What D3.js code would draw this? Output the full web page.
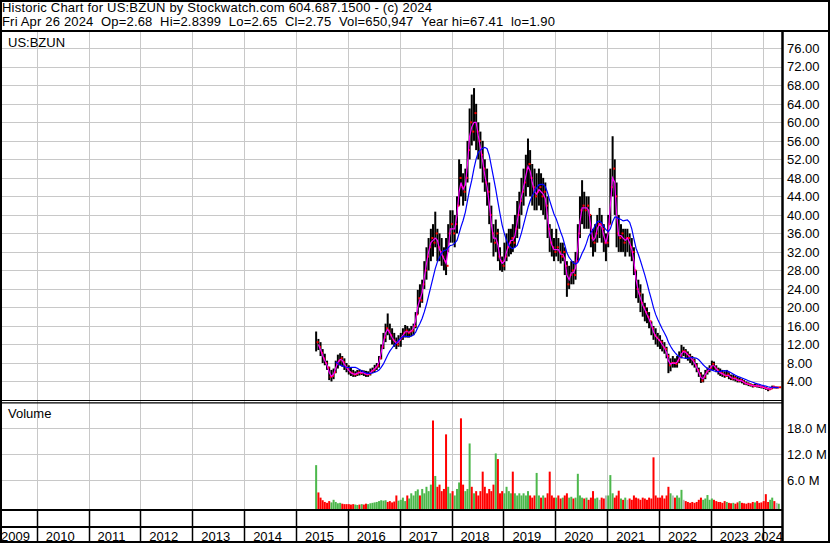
<!DOCTYPE html>
<html>
<head>
<meta charset="utf-8">
<script src="https://cdnjs.cloudflare.com/ajax/libs/d3/7.8.5/d3.min.js"></script>
<style>
body { margin: 0; background: #fff; }
svg text { font-family: "Liberation Sans", Arial, sans-serif; font-size: 13px; fill: #000; }
</style>
</head>
<body>
<div id="chart"></div>
<script>
// half-month bars, the first one is the second half of May 2015
var firstHalfMonth = 9; // half-months counted from Jan 2015

var priceHi = [
    14.8,13.2,12.5,11,10,8.5,7.2,6.5,6.8,8.5,9.8,10.1,9.5,9.0,8.0,
    7.5,7.0,6.5,6.2,6.5,6.6,6.5,6.4,6.3,6.2,6.8,7.0,7.6,8.0,9.5,12.0,14.5,16.5,18.7,16.5,15.5,14.5,13.5,14.0,
    14.5,15.5,16.2,16.0,15.5,16.0,16.5,19,23.8,25,26,30,33,35,37,38,40.7,37,36,35,33,35,38,41,
    41,40,44,52,51,49,50,56,63,66,67.4,64,60,58,56,52,50,47,42,38,39,37,33,31,
    34,36,37,37,38,40,43,45,48,50,53,56.5,54,51,50,49,50,49,48,47,44,38,37,35,
    37,35,34,34,33,30,29,30,30,32,38,44,47.5,45,44,44,40,37,38,40,41.5,40,38,36,
    40,50,57,52,47,40,38,37,37,37,36,35,33,28,26,25,23,21,20,19,17,16,15.5,14.5,
    14,13,12.5,11.5,10,9,9.5,9,9.5,10.5,11.9,11.5,11,10.5,10,9.5,9,8,7,6,5.5,6.5,7,7.5,
    8.5,8.3,7.5,7,6.8,6.5,6.2,6.5,6,5.5,5.5,5.2,5,4.8,4.6,4.3,4,3.8,3.6,3.4,3.5,3.4,3.2,3.1,
    3.0,2.8,2.6,2.7,3.1,3.0,2.9,2.84
];

var priceLo = [
    10.5,10.8,9.5,8,7.5,6.5,4.3,4.0,4.5,5.8,6.8,7.5,7.2,6.5,6.0,
    5.5,5.2,5.0,5.0,5.2,5.3,5.4,5.2,5.0,5.0,5.3,5.8,6.0,6.5,7.0,8.8,11,12.5,14,13,12,11.5,11.0,11.5,
    11.5,13,13.5,13.5,13.5,13.8,14,15.5,18.5,20,21,24,26,28,30,31,33,30,30,29,28,27,32,34,
    34,33,36,42,44,42,43,47,52,55,56,54,52,50,47,45,42,38,34,31,32,30,28,27.7,
    28,30,31,31.5,32,33,35,37,40,42,44,46,44,42,41,41,42,41,40,39,35,32,31,30,
    31,30,29.5,30,27,22.3,24,25,25,26,30,35,38,37,37,37,33,31,32,34,35,34,32,30,
    33,38,44,40,33,32,32,32,31,32,31,30,27,22,21,19,18,17,16.6,15.5,14,13,12,11.5,
    11,10.5,10,9,5.8,6.2,7,7,7,8,9,9.5,9,8.5,8,7.5,7,6,5,3.7,3.8,4.5,5.5,6,
    6.5,6.5,6,5.5,5.2,5,4.8,5,4.5,4.3,4.2,4,3.8,3.8,3.6,3.3,3.2,3,2.9,2.7,2.8,2.7,2.6,2.5,
    2.4,2.2,1.9,2.2,2.4,2.5,2.5,2.6
];

var priceClose = [
    12.5,11.5,10.2,9.0,8.0,7.0,5.0,5.2,6.0,7.8,8.5,9.0,8.2,7.2,6.8,
    6.0,5.8,5.5,5.6,6.0,5.8,6.0,5.7,5.5,5.6,6.2,6.5,7.0,7.4,9.0,11.5,13.5,15.5,15.0,14.0,13.0,12.5,12.0,13.0,
    13.5,14.5,15,14.5,14.8,15.0,16.0,18.5,22,21.5,25,28,31,33,35,34,36,33,32,31,30,29,36,38,
    36,38,42,48,46,45,48,54,60,58,62,58,56,53,50,47,45,40,36,34,36,31,30,29,
    31,33,34,35,34,37,40,43,45,47,50,51,48,46,44,45,46,44,45,42,37,34,33,32,
    33,32,31,32,29,25,27,28,27,30,36,41,42,41,42,40,35,34,36,38,38,37,34,34,
    38,46,50,44,36,35,36,34,35,35,33,32,28,24,23,21,20,19,18,17,15.5,14,13.5,13,
    12.5,11.5,11,9.5,7.5,8,8,7.8,8.5,9.5,10.5,10.5,10,9.5,9,8.5,7.5,6.5,5.5,4.2,5,6,6.5,7,
    7.8,7,6.5,6,5.8,5.5,5.2,5.5,5,4.6,4.8,4.4,4.2,4.3,4,3.6,3.5,3.3,3.2,3,3.1,3,2.9,2.8,
    2.6,2.5,2.3,2.5,2.9,2.7,2.7,2.75
];

// volume in millions of shares
var volume = [
    9.5,3.2,2.0,1.4,1.0,0.8,1.2,0.9,1.5,1.0,0.7,0.8,0.6,0.5,0.5,
    0.5,0.4,0.5,0.4,0.3,0.4,0.5,0.4,0.6,0.5,0.7,0.8,0.9,1.0,1.2,1.4,1.3,1.4,1.0,1.2,0.9,1.1,2.5,1.3,
    1.5,2.0,1.2,2.5,1.8,3.0,2.5,3.5,3.9,2.5,4.0,3.0,4.5,3.5,5.0,19.8,7.0,4.5,5.0,3.5,4.0,16.6,4.5,3.0,
    3.5,2.5,4.0,5.5,20.3,5.0,3.5,4.0,14.5,4.5,3.0,3.5,2.5,3.5,8.0,4.5,3.0,4.0,3.5,5.0,12.2,10.9,3.0,3.5,
    3.0,4.5,3.5,3.0,8.0,3.0,2.5,3.0,2.5,3.0,2.5,3.5,2.5,2.0,2.5,7.7,2.5,2.0,2.5,2.0,3.0,8.0,2.5,2.0,
    2.0,2.5,1.8,2.0,2.5,3.0,2.0,2.2,1.8,2.0,7.5,2.5,2.0,1.8,2.0,1.5,2.0,3.5,1.8,2.0,1.5,2.0,1.8,2.5,
    2.5,7.2,3.0,2.0,2.5,3.6,1.8,1.5,2.0,1.5,1.8,1.5,2.5,2.0,1.8,1.5,2.0,1.8,1.5,2.0,1.8,11.3,2.5,2.0,
    2.0,2.5,1.8,2.5,4.5,3.0,2.5,2.0,2.5,2.0,3.8,1.5,1.2,1.0,0.8,1.0,0.8,1.0,1.5,2.0,1.5,1.8,2.6,1.5,
    1.8,1.5,1.2,1.0,1.0,0.8,1.2,1.0,0.8,0.7,0.8,0.6,0.9,1.2,0.8,0.7,0.6,0.8,0.7,1.0,0.9,1.2,0.8,0.9,
    1.2,2.8,1.0,1.5,2.0,1.2,0.8,0.6
];

var yearLabels = ["2009","2010","2011","2012","2013","2014","2015","2016","2017","2018","2019","2020","2021","2022","2023","2024"];
var priceTicks = [4,8,12,16,20,24,28,32,36,40,44,48,52,56,60,64,68,72,76];
var volumeTicks = [6,12,18];

var headerLine1 = "Historic Chart for US:BZUN by Stockwatch.com 604.687.1500 - (c) 2024";
var headerLine2 = "Fri Apr 26 2024\u00a0\u00a0Op=2.68\u00a0\u00a0Hi=2.8399\u00a0\u00a0Lo=2.65\u00a0\u00a0Cl=2.75\u00a0\u00a0Vol=650,947\u00a0\u00a0Year hi=67.41\u00a0\u00a0lo=1.90";

var width = 830,
    height = 543,
    plotRight = 782,
    priceTop = 32,
    priceBottom = 400,
    volTop = 403,
    volBottom = 509;

function periodDate(i) {
    var h = firstHalfMonth + i;
    return new Date(2015 + Math.floor(h / 24), Math.floor((h % 24) / 2), h % 2 ? 23 : 8);
}

function movingAverage(values, n) {
    var out = [];
    for (var i = n - 1; i < values.length; i++) {
        out.push({i: i, v: d3.mean(values.slice(i - n + 1, i + 1))});
    }
    return out;
}

var bars = priceClose.map(function(c, i) {
    return {
        date: periodDate(i),
        hi: priceHi[i],
        lo: priceLo[i],
        close: c,
        vol: volume[i],
        dir: i === 0 ? 1 : Math.sign(c - priceClose[i - 1])
    };
});

var x = d3.scaleTime()
    .domain([new Date(2010, 0, 1), new Date(2024, 0, 1)])
    .range([36.7, 762.7]);
var yPrice = d3.scaleLinear().domain([0, 80]).range([priceBottom, 29.8]);
var yVol = d3.scaleLinear().domain([0, 24]).range([506.3, 402.3]);

var svg = d3.select("#chart").append("svg")
    .attr("width", width)
    .attr("height", height);

svg.append("rect").attr("width", width).attr("height", height).attr("fill", "#fff");

var defs = svg.append("defs");
defs.append("clipPath").attr("id", "clipPrice").append("rect")
    .attr("x", 0).attr("y", priceTop).attr("width", plotRight).attr("height", priceBottom - priceTop);
defs.append("clipPath").attr("id", "clipVol").append("rect")
    .attr("x", 0).attr("y", volTop).attr("width", plotRight).attr("height", volBottom - volTop);

// grid
var grid = svg.append("g").attr("stroke", "#c8c8c8").attr("stroke-width", 1);
var years = d3.range(2010, 2025).map(function(y) { return new Date(y, 0, 1); });

grid.selectAll("line.hp").data(priceTicks).join("line")
    .attr("x1", 0).attr("x2", plotRight)
    .attr("y1", function(d) { return Math.round(yPrice(d)) + 0.5; })
    .attr("y2", function(d) { return Math.round(yPrice(d)) + 0.5; });
grid.selectAll("line.hv").data(volumeTicks).join("line")
    .attr("x1", 0).attr("x2", plotRight)
    .attr("y1", function(d) { return Math.round(yVol(d)) + 0.5; })
    .attr("y2", function(d) { return Math.round(yVol(d)) + 0.5; });
grid.selectAll("line.vp").data(years).join("line")
    .attr("x1", function(d) { return Math.round(x(d)) + 0.5; })
    .attr("x2", function(d) { return Math.round(x(d)) + 0.5; })
    .attr("y1", priceTop).attr("y2", volBottom);

svg.append("text").attr("x", 8).attr("y", 47).text("US:BZUN");
svg.append("text").attr("x", 8).attr("y", 418).text("Volume");

// price bars
var price = svg.append("g").attr("clip-path", "url(#clipPrice)");
price.selectAll("rect.bar").data(bars).join("rect")
    .attr("x", function(d) { return x(d.date) - 1; })
    .attr("width", 2)
    .attr("y", function(d) { return yPrice(d.hi); })
    .attr("height", function(d) { return yPrice(d.lo) - yPrice(d.hi); })
    .attr("fill", "#000");
price.selectAll("rect.close").data(bars).join("rect")
    .attr("x", function(d) { return x(d.date) + 0.5; })
    .attr("y", function(d) { return yPrice(d.close) - 1; })
    .attr("width", 2).attr("height", 2)
    .attr("fill", "#ff0000");

var maLine = d3.line()
    .x(function(d) { return x(bars[d.i].date); })
    .y(function(d) { return yPrice(d.v); });

price.append("path")
    .datum(movingAverage(priceClose, 2))
    .attr("d", maLine)
    .attr("fill", "none").attr("stroke", "#ff00ff").attr("stroke-width", 1.2);
price.append("path")
    .datum(movingAverage(priceClose, 10))
    .attr("d", maLine)
    .attr("fill", "none").attr("stroke", "#0000ff").attr("stroke-width", 1.2);

// volume bars
var volColor = function(d) { return d.dir > 0 ? "#4cb84c" : (d.dir < 0 ? "#ff0000" : "#b4b4b4"); };
svg.append("g").attr("clip-path", "url(#clipVol)")
    .selectAll("rect").data(bars).join("rect")
    .attr("x", function(d) { return x(d.date) - 1; })
    .attr("width", 2)
    .attr("y", function(d) { return yVol(d.vol); })
    .attr("height", function(d) { return volBottom - yVol(d.vol); })
    .attr("fill", volColor);

// right axes
var priceAxis = svg.append("g")
    .attr("transform", "translate(" + plotRight + ",0)")
    .call(d3.axisRight(yPrice).tickValues(priceTicks).tickFormat(d3.format(".2f")).tickSize(0).tickPadding(5));
var volAxis = svg.append("g")
    .attr("transform", "translate(" + plotRight + ",0)")
    .call(d3.axisRight(yVol).tickValues(volumeTicks).tickFormat(function(d) { return d.toFixed(1) + " M"; }).tickSize(0).tickPadding(5));
[priceAxis, volAxis].forEach(function(g) {
    g.select(".domain").remove();
    g.selectAll("text").attr("font-family", null).attr("font-size", null).attr("fill", "#000");
});

// frame
var frame = svg.append("g").attr("stroke", "#000").attr("fill", "none");
frame.append("line").attr("x1", 0).attr("x2", width).attr("y1", 31).attr("y2", 31).attr("stroke-width", 2);
frame.append("line").attr("x1", 0).attr("x2", plotRight).attr("y1", 400.5).attr("y2", 400.5).attr("stroke-width", 1.2);
frame.append("line").attr("x1", 0).attr("x2", plotRight).attr("y1", 402.8).attr("y2", 402.8).attr("stroke-width", 1.2);
frame.append("line").attr("x1", 0).attr("x2", plotRight).attr("y1", 510).attr("y2", 510).attr("stroke-width", 2);
frame.append("line").attr("x1", 0).attr("x2", plotRight).attr("y1", 527).attr("y2", 527).attr("stroke-width", 2);
frame.append("line").attr("x1", plotRight + 0.5).attr("x2", plotRight + 0.5).attr("y1", 31).attr("y2", height).attr("stroke-width", 2.5);
frame.append("rect").attr("x", 1).attr("y", 1).attr("width", width - 2).attr("height", height - 2).attr("stroke-width", 2);
frame.selectAll("line.tick").data(years).join("line")
    .attr("x1", function(d) { return Math.round(x(d)) + 0.5; })
    .attr("x2", function(d) { return Math.round(x(d)) + 0.5; })
    .attr("y1", 510).attr("y2", height)
    .attr("stroke-width", 1.5);

// year labels
svg.selectAll("text.year").data(yearLabels).join("text")
    .attr("class", "year")
    .attr("y", 541)
    .text(function(d) { return d; })
    .attr("x", function(d) {
        var w = this.getComputedTextLength();
        var px = x(new Date(+d, 0, 1)) + 9;
        return Math.max(1, Math.min(px, plotRight + 1 - w));
    });

// header
svg.append("text").attr("x", 2).attr("y", 12)
    .attr("textLength", 430).attr("lengthAdjust", "spacing")
    .text(headerLine1);
svg.append("text").attr("x", 2).attr("y", 26)
    .attr("textLength", 553).attr("lengthAdjust", "spacing")
    .text(headerLine2);
</script>
</body>
</html>
